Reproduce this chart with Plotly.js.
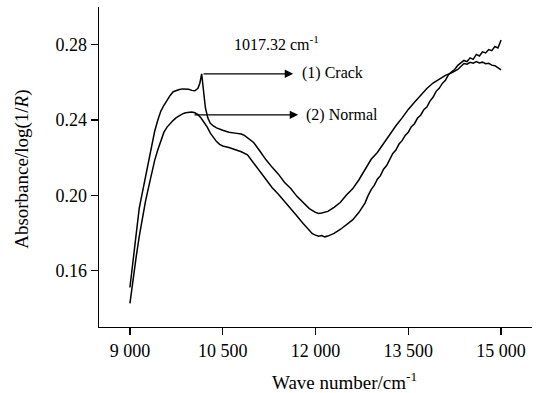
<!DOCTYPE html>
<html>
<head>
<meta charset="utf-8">
<script src="https://cdn.plot.ly/plotly-3.0.1.min.js"></script>
<style>html,body{margin:0;padding:0;background:#fff}#chart{width:542px;height:393px}</style>
</head>
<body>
<div id="chart"></div>
<script>
// Crack spectrum
var crackWave = [9000,9050,9100,9150,9200,9250,9300,9350,9400,9450,9500,9550,9600,9650,9700,9750,9800,9850,9900,9950,10000,10050,10100,10130,10160,10190,10220,10260,10300,10350,10400,10500,10600,10700,10800,10850,10900,11000,11100,11200,11300,11400,11500,11600,11700,11800,11900,12000,12050,12100,12200,12300,12400,12500,12600,12700,12800,12900,13000,13100,13200,13300,13400,13500,13600,13700,13800,13900,14000,14100,14200,14300,14400,14450,14500,14550,14600,14650,14700,14750,14800,14850,14900,14950,15000];
var crackAbs = [0.151,0.164,0.180,0.193,0.2013,0.2095,0.2172,0.2258,0.2340,0.2398,0.2447,0.2478,0.2507,0.2530,0.2550,0.2558,0.2562,0.2565,0.2565,0.2563,0.2557,0.2555,0.2568,0.2595,0.2645,0.2540,0.2465,0.2410,0.2382,0.2368,0.2358,0.2345,0.2335,0.2330,0.2325,0.2318,0.2305,0.2280,0.2235,0.2188,0.2148,0.2112,0.2068,0.2036,0.1994,0.1961,0.1929,0.1909,0.1903,0.1906,0.1914,0.1936,0.1961,0.2001,0.2034,0.2081,0.2139,0.2191,0.2227,0.2276,0.2319,0.2369,0.2411,0.2456,0.2494,0.2533,0.2567,0.2596,0.2617,0.2637,0.2650,0.2668,0.2700,0.2696,0.2706,0.2701,0.2710,0.2703,0.2707,0.2699,0.2701,0.2691,0.2688,0.2679,0.2666];
// Normal spectrum
var normalWave = [9000,9050,9100,9150,9200,9250,9300,9350,9400,9450,9500,9550,9600,9650,9700,9750,9800,9850,9900,9950,10000,10050,10100,10150,10200,10250,10300,10350,10400,10450,10500,10600,10700,10800,10900,11000,11100,11200,11300,11400,11500,11600,11700,11800,11900,11950,12000,12050,12100,12150,12200,12250,12300,12400,12500,12600,12700,12750,12800,12850,12900,12950,13000,13050,13100,13150,13200,13250,13300,13350,13400,13450,13500,13550,13600,13650,13700,13750,13800,13850,13900,13950,14000,14050,14100,14150,14200,14250,14300,14350,14400,14450,14500,14550,14600,14650,14700,14750,14800,14850,14900,14950,15000];
var normalAbs = [0.1426,0.1555,0.1670,0.1780,0.1880,0.1965,0.2040,0.2115,0.2185,0.2240,0.2292,0.2335,0.2362,0.2382,0.2398,0.2412,0.2424,0.2432,0.2438,0.2442,0.2442,0.2438,0.2428,0.2410,0.2388,0.2362,0.2330,0.2305,0.2285,0.2270,0.2262,0.2254,0.2243,0.2231,0.2215,0.2172,0.2123,0.2080,0.2040,0.2005,0.1968,0.1928,0.1890,0.1850,0.1812,0.1796,0.1788,0.1782,0.1786,0.1779,0.1783,0.1790,0.1797,0.1818,0.1842,0.1869,0.1908,0.1935,0.1958,0.1998,0.2030,0.2052,0.2085,0.2104,0.2138,0.2158,0.2190,0.2222,0.2240,0.2272,0.2290,0.2318,0.2335,0.2364,0.2380,0.2410,0.2425,0.2454,0.2468,0.2500,0.2520,0.2552,0.2568,0.2594,0.2610,0.2640,0.2656,0.2668,0.2690,0.2702,0.2716,0.2710,0.2730,0.2722,0.2748,0.2740,0.2762,0.2756,0.2774,0.2768,0.2790,0.2782,0.2825];

var xTickVals = [9000,10500,12000,13500,15000];
var xTickText = ['9 000','10 500','12 000','13 500','15 000'];
var yTickVals = [0.16,0.20,0.24,0.28];

var xTitle = 'Wave number/cm<sup>-1</sup>';
var yTitle = 'Absorbance/log(1/<i>R</i>)';
var peakLabel = '1017.32 cm<sup>-1</sup>';
var crackLabel = '(1) Crack';
var normalLabel = '(2) Normal';

var font = 'Liberation Serif, Times New Roman, serif';
var lineStyle = {color:'#000', width:1.5};

var traces = [
  {x:crackWave, y:crackAbs, mode:'lines', line:lineStyle, name:crackLabel, showlegend:false},
  {x:normalWave, y:normalAbs, mode:'lines', line:lineStyle, name:normalLabel, showlegend:false}
];

var axisCommon = {showline:true, linecolor:'#000', linewidth:1.4, ticks:'outside', ticklen:7, tickwidth:1.4,
                  tickcolor:'#000', showgrid:false, zeroline:false, tickfont:{family:font, size:18}};

var layout = {
  width:542, height:393,
  margin:{l:99, r:10, t:7, b:66},
  paper_bgcolor:'#fff', plot_bgcolor:'#fff',
  font:{family:font, color:'#000', size:17},
  showlegend:false,
  xaxis:Object.assign({range:[8500,15500], tickvals:xTickVals, ticktext:xTickText}, axisCommon),
  yaxis:Object.assign({range:[0.13,0.30], tickvals:yTickVals, tickformat:'.2f'}, axisCommon),
  annotations:[
    {xref:'paper', yref:'paper', x:0.568, y:-0.169, xanchor:'center', yanchor:'middle', showarrow:false,
     text:xTitle, font:{family:font, size:19}},
    {xref:'paper', yref:'paper', x:-0.178, y:0.494, xanchor:'center', yanchor:'middle', showarrow:false,
     textangle:-90, text:yTitle, font:{family:font, size:19}},
    {xref:'x', yref:'y', x:11364, y:0.2809, showarrow:false, text:peakLabel, font:{family:font, size:16}},
    {xref:'x', yref:'y', x:11745, y:0.265, xanchor:'left', showarrow:false, text:crackLabel, font:{family:font, size:16}},
    {xref:'x', yref:'y', x:11810, y:0.2427, xanchor:'left', showarrow:false, text:normalLabel, font:{family:font, size:16}},
    {xref:'x', yref:'y', axref:'x', ayref:'y', x:11639, y:0.2645, ax:10166, ay:0.2645, text:'', showarrow:true,
     arrowhead:2, arrowsize:1.3, arrowwidth:1.3, arrowcolor:'#000'},
    {xref:'x', yref:'y', axref:'x', ayref:'y', x:11720, y:0.2427, ax:10020, ay:0.2427, text:'', showarrow:true,
     arrowhead:2, arrowsize:1.3, arrowwidth:1.3, arrowcolor:'#000'}
  ]
};

Plotly.newPlot('chart', traces, layout, {staticPlot:true, displayModeBar:false});
</script>
</body>
</html>
